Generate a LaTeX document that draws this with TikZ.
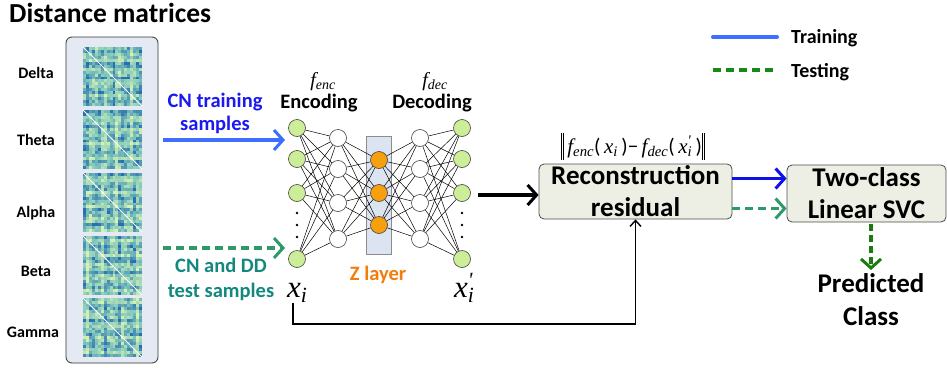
\documentclass[tikz,border=0pt]{standalone}
\usepackage{fontspec}
\setmainfont{Carlito}
\newfontfamily\tms{Liberation Serif}
\usetikzlibrary{arrows.meta}
\definecolor{panelfill}{HTML}{E4E9F4}
\definecolor{boxfill}{HTML}{EEEFE4}
\definecolor{zfill}{HTML}{DCE4F2}
\definecolor{ingreen}{HTML}{CDEE98}
\definecolor{zorange}{HTML}{F7A00F}
\definecolor{ztext}{HTML}{F27C0C}
\definecolor{trblue}{HTML}{3D6EFF}
\definecolor{trtext}{HTML}{1A1AF0}
\definecolor{svcblue}{HTML}{0E12E8}
\definecolor{tegreen}{HTML}{2E9A6C}
\definecolor{tetext}{HTML}{13887E}
\definecolor{leggreen}{HTML}{168A16}
\definecolor{predgreen}{HTML}{1C7A12}
\definecolor{mlight}{HTML}{D6EFB2}
\definecolor{mmid}{HTML}{80C8BC}
\definecolor{mdark}{HTML}{2A6EB0}
\newcommand\myit[1]{{\tms\itshape #1}}
\newcommand\mydbar{\rule[-6pt]{0.7pt}{27pt}\hspace{1.5pt}\rule[-6pt]{0.7pt}{27pt}}
\begin{document}
\begin{tikzpicture}[x=1pt,y=-1pt,
  lbl/.style={font=\fontsize{16}{18}\selectfont\bfseries, anchor=base, inner sep=0},
  bigtxt/.style={font=\fontsize{20.5}{24}\selectfont\bfseries, anchor=base, inner sep=0},
  neuron/.style={circle, draw=black!75, line width=0.6pt, minimum size=17pt, inner sep=0},
  edge/.style={line width=0.5pt, black},
  procbox/.style={draw=black!70, line width=0.8pt, fill=boxfill, rounded corners=5pt, align=center, font=\fontsize{27}{32}\selectfont\bfseries, inner sep=0},
  trarrow/.style={line width=3.5pt, -{Straight Barb[length=9pt, width=20pt, line width=3pt]}},
  tearrow/.style={line width=3.5pt, dash pattern=on 8pt off 5pt, -{Straight Barb[length=9pt, width=20pt, line width=3pt]}},
  blkarrow/.style={line width=3.5pt, -{Straight Barb[length=9pt, width=20pt, line width=3pt]}},
  fbarrow/.style={line width=1.4pt, -{Straight Barb[length=6pt, width=11pt, line width=1.4pt]}}
]
\useasboundingbox (0,0) rectangle (947,367);

% title
\node[anchor=base west, inner sep=0, font=\fontsize{27.5}{30}\selectfont\bfseries] (title) at (9,22) {Distance matrices};

% panel
\node[draw=black!80, line width=0.8pt, fill=panelfill, rounded corners=6pt, minimum width=92pt, minimum height=326pt, inner sep=0] (panel) at (112,200) {};

% matrices
\foreach \m/\y in {0/47,1/110,2/173,3/236,4/298} {
  \foreach \i in {0,...,19} {
    \foreach \j in {0,...,19} {
      \pgfmathtruncatemacro\v{max(0,min(100, 50+17*sin(\i*83+\m*57)+17*sin(\j*83+\m*57)+10*sin(\i*151+\m*23)+10*sin(\j*151+\m*23)+30*rand))}
      \ifnum\v<50
        \pgfmathtruncatemacro\w{2*\v}
        \fill[mmid!\w!mlight] (83+\i*2.95, \y+\j*2.95) rectangle ++(2.95,2.95);
      \else
        \pgfmathtruncatemacro\w{2*\v-100}
        \fill[mdark!\w!mmid] (83+\i*2.95, \y+\j*2.95) rectangle ++(2.95,2.95);
      \fi
    }
  }
  \draw[white, line width=0.9pt] (83,\y) -- ++(59,59);
}

% band labels
\node[lbl] (ldelta) at (36,78) {Delta};
\node[lbl] (ltheta) at (36,145) {Theta};
\node[lbl] (lalpha) at (36,217) {Alpha};
\node[lbl] (lbeta) at (36,276) {Beta};
\node[lbl] (lgamma) at (33,337) {Gamma};

% input texts
\node[bigtxt, text=trtext] (tr1) at (215,107) {CN training};
\node[bigtxt, text=trtext] (tr2) at (215,130) {samples};
\node[bigtxt, text=tetext] (te1) at (221,272) {CN and DD};
\node[bigtxt, text=tetext] (te2) at (221,297) {test samples};

\coordinate (tra) at (163,140);
\coordinate (trb) at (285,140);
\draw[trarrow, trblue] (tra) -- (trb);
\coordinate (tea) at (163,248);
\coordinate (teb) at (285,248);
\draw[tearrow, tegreen] (tea) -- (teb);

% Z layer rectangle
\node[draw=black!45, fill=zfill, line width=0.6pt, minimum width=25pt, minimum height=118pt, inner sep=0] (zrect) at (378.5,195) {};

% neurons
\foreach \k/\y in {0/128,1/159,2/193,3/259} {
  \node[neuron, fill=ingreen] (in\k) at (297,\y) {};
  \node[neuron, fill=ingreen] (o\k) at (462,\y) {};
}
\foreach \k/\y in {0/138,1/169,2/203,3/239} {
  \node[neuron, fill=white] (h\k) at (338,\y) {};
  \node[neuron, fill=white] (d\k) at (420,\y) {};
}
\foreach \k/\y in {0/160,1/193,2/225} {
  \node[neuron, fill=zorange] (z\k) at (379,\y) {};
}
\foreach \i in {0,...,3} {
  \foreach \j in {0,...,3} {
    \draw[edge] (in\i) -- (h\j);
    \draw[edge] (d\i) -- (o\j);
  }
  \foreach \j in {0,...,2} {
    \draw[edge] (h\i) -- (z\j);
    \draw[edge] (z\j) -- (d\i);
  }
}
\foreach \yy in {213,225,237} {
  \fill (297,\yy) circle (1.4pt);
  \fill (462,\yy) circle (1.4pt);
}

% network labels
\node[anchor=base, inner sep=0, font=\fontsize{20}{20}\selectfont] (fenc) at (323,86) {\myit{f}\textsubscript{\myit{enc}}};
\node[anchor=base, inner sep=0, font=\fontsize{20}{20}\selectfont] (fdec) at (435,86) {\myit{f}\textsubscript{\myit{dec}}};
\node[bigtxt] (enc) at (319,108) {Encoding};
\node[bigtxt] (dec) at (432,108) {Decoding};
\node[bigtxt, text=ztext] (zl) at (378,280) {Z layer};
\node[anchor=base west, inner sep=0, font=\fontsize{31}{31}\selectfont] (xi) at (287,297) {\myit{x}\textsubscript{\myit{i}}};
\node[anchor=base west, inner sep=0, font=\fontsize{31}{31}\selectfont] (xo) at (454,297) {\myit{x}\rlap{\textsuperscript{\myit{'}}}\textsubscript{\myit{i}}};

% reconstruction residual
\node[procbox, minimum width=193pt, minimum height=55pt] (rec) at (635.5,191.5) {Reconstruction\\residual};
\node[inner sep=0, font=\fontsize{21}{22}\selectfont] (res) at (633,146) {\mydbar\,\myit{f}\textsubscript{\myit{enc}}(\,\myit{x}\textsubscript{\myit{i}}\,)−\,\myit{f}\textsubscript{\myit{dec}}(\,\myit{x}\rlap{\textsuperscript{\myit{'}}}\textsubscript{\myit{i}}\,)\mydbar};

% SVC
\node[procbox, minimum width=159pt, minimum height=57pt] (svc) at (866.5,193.5) {Two-class\\Linear SVC};

% arrows
\coordinate (oa) at (478,195);
\draw[blkarrow] (oa) -- (oa -| rec.west);
\coordinate (r1) at ([yshift=13pt]rec.east);
\draw[trarrow, svcblue] (r1) -- (r1 -| svc.west);
\coordinate (r2) at ([yshift=-17pt]rec.east);
\draw[tearrow, tegreen] (r2) -- (r2 -| svc.west);

\coordinate (fb0) at (293,303);
\coordinate (fbc) at (293,324);
\draw[fbarrow] (fb0) -- (fbc) -| (rec.south);

% predicted
\node[anchor=base, inner sep=0, font=\fontsize{27}{32}\selectfont\bfseries] (pred1) at (871,292) {Predicted};
\node[anchor=base, inner sep=0, font=\fontsize{27}{32}\selectfont\bfseries] (pred2) at (871,325) {Class};
\coordinate (pa) at (871,224);
\coordinate (pb) at (871,270);
\draw[tearrow, predgreen, dash pattern=on 7pt off 4pt] (pa) -- (pb);

% legend
\coordinate (l1a) at (713,37);
\coordinate (l1b) at (777,37);
\draw[line width=4pt, trblue, line cap=round] (l1a) -- (l1b);
\node[anchor=base west, inner sep=0, font=\fontsize{20}{22}\selectfont\bfseries] (ltr) at (791,43) {Training};
\coordinate (l2a) at (713,70);
\coordinate (l2b) at (777,70);
\draw[line width=4pt, leggreen, dash pattern=on 8pt off 5pt] (l2a) -- (l2b);
\node[anchor=base west, inner sep=0, font=\fontsize{20}{22}\selectfont\bfseries] (lte) at (791,77) {Testing};
\end{tikzpicture}
\end{document}
